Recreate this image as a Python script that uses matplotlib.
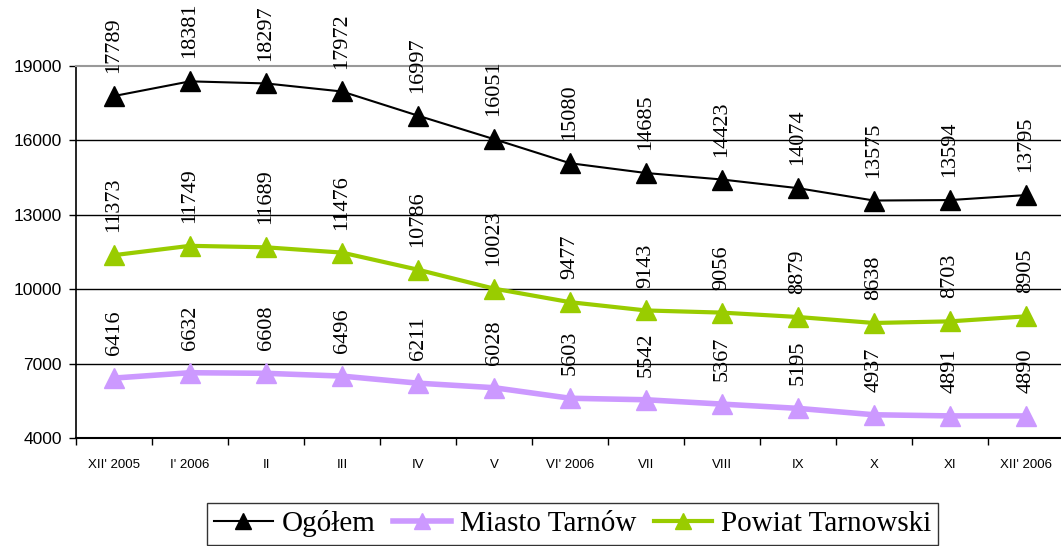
import matplotlib
matplotlib.use("Agg")
import matplotlib.pyplot as plt

miesiace = ["XII' 2005", "I' 2006", "II", "III", "IV", "V", "VI' 2006",
            "VII", "VIII", "IX", "X", "XI", "XII' 2006"]

ogolem = [17789, 18381, 18297, 17972, 16997, 16051, 15080,
          14685, 14423, 14074, 13575, 13594, 13795]
miasto_tarnow = [6416, 6632, 6608, 6496, 6211, 6028, 5603,
                 5542, 5367, 5195, 4937, 4891, 4890]
powiat_tarnowski = [11373, 11749, 11689, 11476, 10786, 10023, 9477,
                    9143, 9056, 8879, 8638, 8703, 8905]

os_y = [4000, 7000, 10000, 13000, 16000, 19000]


def rysuj_serie(ax, x, wartosci, nazwa, kolor, grubosc):
    ax.plot(x, wartosci, color=kolor, lw=grubosc, marker="^", ms=15,
            markerfacecolor=kolor, markeredgecolor=kolor, label=nazwa,
            clip_on=False, zorder=3)
    # etykiety z wartosciami, pionowo nad punktami
    for xi, v in zip(x, wartosci):
        ax.annotate(str(v), (xi, v), xytext=(0, 16.5), textcoords="offset points",
                    rotation=90, ha="center", va="bottom", fontsize=16,
                    family="Liberation Serif", annotation_clip=False)


def main():
    fig = plt.figure(figsize=(10.61, 5.46), dpi=100)
    ax = fig.add_axes([76 / 1061, 1 - 438 / 546, 988 / 1061, 372 / 546])

    x = list(range(len(miesiace)))
    rysuj_serie(ax, x, ogolem, "Ogółem", "black", 1.5)
    rysuj_serie(ax, x, miasto_tarnow, "Miasto Tarnów", "#CC99FF", 4)
    rysuj_serie(ax, x, powiat_tarnowski, "Powiat Tarnowski", "#99CC00", 3)

    ax.set_xlim(-0.5, len(miesiace) - 0.5)
    ax.set_ylim(os_y[0], os_y[-1])
    ax.set_yticks(os_y)
    ax.set_yticklabels([str(v) for v in os_y], family="Liberation Sans", fontsize=12.5)
    ax.set_xticks(x)
    ax.set_xticklabels(miesiace, family="Liberation Sans", fontsize=9.5)
    ax.set_xticks([i - 0.5 for i in range(len(miesiace) + 1)], minor=True)
    ax.tick_params(axis="x", which="major", length=0, pad=15)
    ax.tick_params(axis="x", which="minor", length=5, width=1, direction="out")
    ax.tick_params(axis="y", length=5, width=1, direction="out", pad=5)

    ax.yaxis.grid(True, color="black", lw=1)
    ax.get_ygridlines()[-1].set_visible(False)
    ax.get_ygridlines()[0].set_visible(False)
    ax.set_axisbelow(True)

    ax.spines["right"].set_visible(False)
    ax.spines["top"].set_color("#999999")
    ax.spines["top"].set_linewidth(1.5)
    ax.spines["left"].set_linewidth(1.2)
    ax.spines["bottom"].set_linewidth(1.5)

    leg = fig.legend(loc="upper left", bbox_to_anchor=(207 / 1061, 1 - 503 / 546),
                     ncol=3, prop={"family": "Liberation Serif", "size": 21},
                     frameon=True, fancybox=False, edgecolor="black",
                     handlelength=2.0, handletextpad=0.3, columnspacing=0.6,
                     borderpad=0.25, markerscale=0.8, borderaxespad=0)
    leg.get_frame().set_linewidth(1)

    fig.savefig("out.png", dpi=100)


if __name__ == "__main__":
    main()
